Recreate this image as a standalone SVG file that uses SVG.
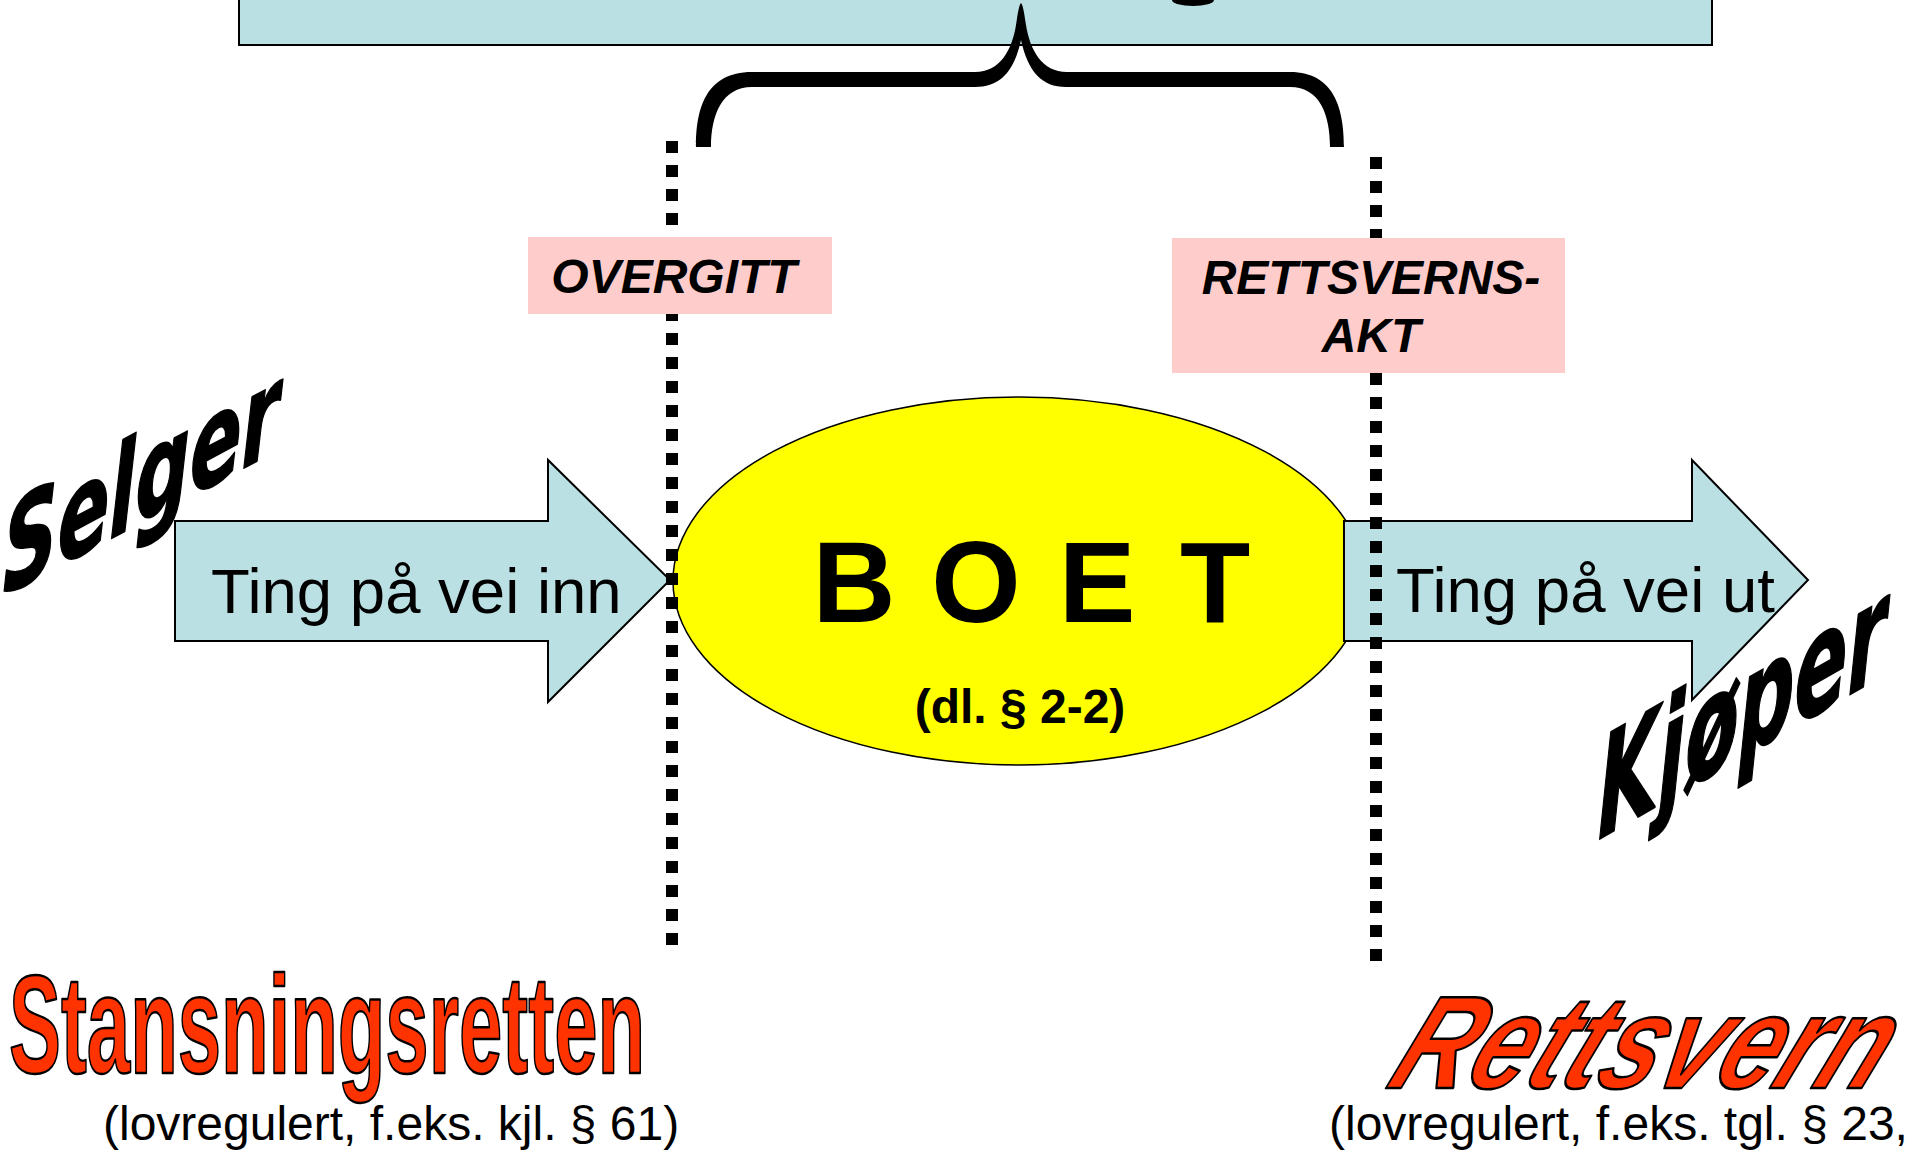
<svg xmlns="http://www.w3.org/2000/svg" width="1915" height="1153" viewBox="0 0 1915 1153">
<style>
.arrow{fill:#BBE0E3;stroke:#000;stroke-width:2}
.label{fill:#FFCCCC}
.lbl{font-family:"Liberation Sans",Arial,sans-serif;font-weight:bold;font-style:italic;font-size:48px;fill:#000;text-anchor:middle}
.ting{font-family:"Liberation Sans",Arial,sans-serif;font-size:63.5px;fill:#000}
.dots{stroke:#000;stroke-width:12;stroke-dasharray:12 12;fill:none}
.script{font-family:"DejaVu Sans",sans-serif;font-weight:bold;font-style:italic;fill:#000;stroke:#000;stroke-width:2;stroke-linejoin:round}
.wordart{font-family:"Liberation Sans",Arial,sans-serif;font-weight:bold;fill:#FF3300;stroke:#000;stroke-width:2.5;stroke-linejoin:round}
.note{font-family:"Liberation Sans",Arial,sans-serif;font-size:48px;fill:#000}
</style>
<rect width="1915" height="1153" fill="#fff"/>
<g id="topbox">
<rect x="239" y="-5" width="1473" height="50" fill="#BBE0E3" stroke="#000" stroke-width="2"/>
<ellipse cx="1193" cy="0" rx="21" ry="6" fill="#000"/>
</g>
<g id="selger">
<text class="script" font-size="122" transform="translate(3,596) skewY(-28)" x="0" y="0" textLength="276" lengthAdjust="spacingAndGlyphs">Selger</text>
</g>
<g id="boet">
<ellipse cx="1019" cy="581" rx="346" ry="184" fill="#FFFF00" stroke="#000" stroke-width="1.5"/>
<text font-family="'Liberation Sans',Arial,sans-serif" font-weight="bold" font-size="115" text-anchor="middle" x="854 915 976 1036 1097 1156 1215" y="622">B O E T</text>
<text font-family="'Liberation Sans',Arial,sans-serif" font-weight="bold" font-size="48" text-anchor="middle" x="1020" y="723">(dl. § 2-2)</text>
</g>
<g id="arrow-inn">
<polygon class="arrow" points="175,521 548,521 548,460 670,580 548,702 548,641 175,641"/>
<text class="ting" x="211" y="613">Ting på vei inn</text>
</g>
<g id="arrow-ut">
<polygon class="arrow" points="1344,521 1692,521 1692,460 1808,580 1692,700 1692,641 1344,641"/>
<text class="ting" x="1396" y="612">Ting på vei ut</text>
</g>
<g id="connectors">
<path d="M696,147 C696,110 705,72 752,72 L975,72 C1000,72 1012,50 1016,25 C1018,12 1019,5 1021,3 C1023,5 1024,12 1026,25 C1030,50 1042,72 1067,72 L1290,72 C1335,72 1344,110 1344,147 L1330,147 C1330,115 1320,87 1290,87 L1066,87 C1042,87 1028,72 1021,40 C1014,72 1000,87 975,87 L752,87 C722,87 711,115 711,147 Z" fill="#000"/>
<line class="dots" x1="672" y1="141" x2="672" y2="945"/>
<line class="dots" x1="1376" y1="157" x2="1376" y2="961"/>
</g>
<g id="overgitt">
<rect class="label" x="528" y="237" width="304" height="77"/>
<text class="lbl" x="674" y="293">OVERGITT</text>
</g>
<g id="rettsvernsakt">
<rect class="label" x="1172" y="238" width="393" height="135"/>
<text class="lbl" x="1371" y="294">RETTSVERNS-</text>
<text class="lbl" x="1371" y="352">AKT</text>
</g>
<g id="kjoper">
<text class="script" font-size="138" transform="translate(1598,840) skewY(-30)" x="0" y="0" textLength="288" lengthAdjust="spacingAndGlyphs">Kjøper</text>
</g>
<g id="stansningsretten">
<text class="wordart" font-size="140" x="9" y="1073" textLength="636" lengthAdjust="spacingAndGlyphs">Stansningsretten</text>
<text class="note" x="103" y="1140">(lovregulert, f.eks. kjl. § 61)</text>
</g>
<g id="rettsvern">
<text class="wordart" font-style="italic" font-size="132" transform="translate(1384,1088) skewX(-24)" x="0" y="0" textLength="490" lengthAdjust="spacingAndGlyphs">Rettsvern</text>
<text class="note" x="1329" y="1140">(lovregulert, f.eks. tgl. § 23,</text>
</g>
</svg>
